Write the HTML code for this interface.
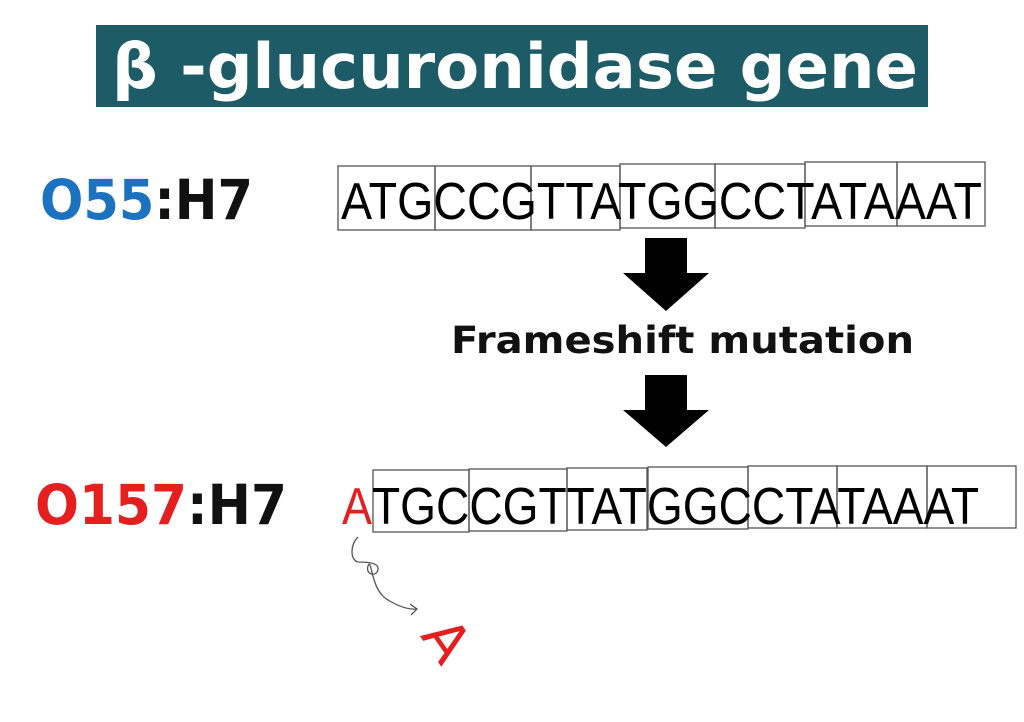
<!DOCTYPE html>
<html><head><meta charset="utf-8"><style>
html,body{margin:0;padding:0;background:#fff;}
svg{display:block;}
</style></head><body>
<svg width="1024" height="722" viewBox="0 0 1024 722" xmlns="http://www.w3.org/2000/svg">
<rect x="0" y="0" width="1024" height="722" fill="#fff"/>
<rect x="96" y="25" width="832" height="82" fill="#1d5c66"/>
<text x="112" y="88" font-family="DejaVu Sans, Liberation Sans, sans-serif" font-weight="600" font-size="62" fill="#fff" textLength="806" lengthAdjust="spacingAndGlyphs">β -glucuronidase gene</text>

<text x="40" y="219" font-family="DejaVu Sans, Liberation Sans, sans-serif" font-weight="600" font-size="55" textLength="213" lengthAdjust="spacingAndGlyphs"><tspan fill="#1a72c0">O55</tspan><tspan fill="#111">:H7</tspan></text>
<text x="35" y="524" font-family="DejaVu Sans, Liberation Sans, sans-serif" font-weight="600" font-size="55" textLength="252" lengthAdjust="spacingAndGlyphs"><tspan fill="#e51f1f">O157</tspan><tspan fill="#111">:H7</tspan></text>

<g fill="none" stroke="#555" stroke-width="1.3">
<rect x="338" y="166" width="97" height="64"/>
<rect x="435" y="166" width="96" height="64"/>
<rect x="531" y="166" width="89" height="64"/>
<rect x="620" y="164" width="95" height="64"/>
<rect x="715" y="164" width="90" height="64"/>
<rect x="805" y="162" width="92" height="64"/>
<rect x="897" y="162" width="88" height="64"/>

<rect x="373" y="470" width="96" height="62"/>
<rect x="469" y="469" width="98" height="62"/>
<rect x="567" y="468" width="80" height="62"/>
<rect x="648" y="467" width="100" height="62"/>
<rect x="748" y="466" width="89" height="62"/>
<rect x="837" y="466" width="90" height="62"/>
<rect x="927" y="466" width="89" height="62"/>
</g>

<g font-family="Liberation Sans, sans-serif" font-size="52" fill="#000">
<text x="341" y="219" textLength="641" lengthAdjust="spacingAndGlyphs">ATGCCGTTATGGCCTATAAAT</text>
<text x="342" y="524" fill="#e51f1f" textLength="30" lengthAdjust="spacingAndGlyphs">A</text>
<text x="372" y="524" textLength="607" lengthAdjust="spacingAndGlyphs">TGCCGTTATGGCCTATAAAT</text>
</g>

<polygon points="645,238 687,238 687,273 709,273 666,311 623,273 645,273" fill="#000"/>
<polygon points="645,375 687,375 687,410 709,410 666,447 623,410 645,410" fill="#000"/>

<text x="451" y="353" font-family="DejaVu Sans, Liberation Sans, sans-serif" font-weight="600" font-size="37" fill="#111" textLength="463" lengthAdjust="spacingAndGlyphs">Frameshift mutation</text>

<path d="M358,537 C350,545 350,560 358,562 C362,562 378,562 378,568 C378,578 365,575 368,566 C372,556 370,590 388,600 C398,606 408,610 417,609" fill="none" stroke="#555" stroke-width="1.3"/>
<path d="M410,604 L417,609 L411,615" fill="none" stroke="#555" stroke-width="1.3"/>

<text x="0" y="0" font-family="DejaVu Sans, Liberation Sans, sans-serif" font-size="56" fill="#e51f1f" text-anchor="middle" transform="translate(447,640) rotate(55)" dy="20">A</text>
</svg>
</body></html>
